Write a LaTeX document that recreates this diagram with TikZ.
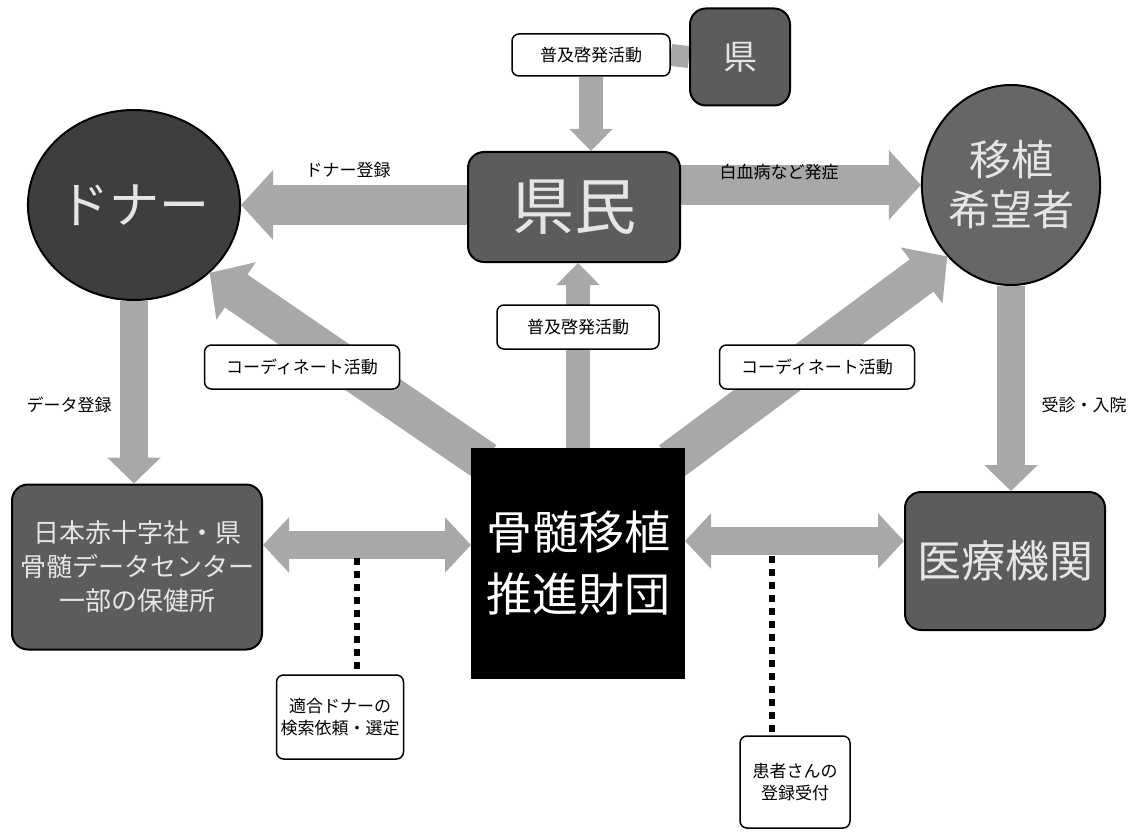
\documentclass[tikz,border=0pt]{standalone}
\usepackage{fontspec}
\setmainfont{Noto Sans CJK JP}
\usetikzlibrary{shapes.geometric,arrows.meta}
\pgfdeclarelayer{bg}
\pgfsetlayers{bg,main}
\definecolor{agray}{HTML}{A8A8A8}
\definecolor{dgray}{HTML}{5C5C5C}
\definecolor{egray}{HTML}{3E3E3E}
\definecolor{kgray}{HTML}{666666}
\begin{document}
\begin{tikzpicture}[x=1pt,y=-1pt,
  lbl/.style={draw=black,line width=1.5pt,fill=white,rounded corners=7pt,font=\fontsize{17}{22}\selectfont,inner sep=4pt,align=center},
  plain/.style={font=\fontsize{17}{20}\selectfont,inner sep=1pt},
  darkbox/.style={draw=black,line width=2pt,fill=dgray,rounded corners=16pt,text=white!90!black,align=center,inner sep=2pt},
  darkell/.style={ellipse,draw=black,line width=2pt,text=white!90!black,align=center,inner sep=0pt},
  bigarrow/.style={draw=agray,line width=40pt,-{Triangle[width=68pt,length=32pt]}},
  midarrow/.style={draw=agray,line width=28pt,-{Triangle[width=52pt,length=26pt]}},
  smallarrow/.style={draw=agray,line width=24pt,-{Triangle[width=42pt,length=22pt]}},
  dblarrow/.style={draw=agray,line width=28pt,{Triangle[width=54pt,length=26pt]}-{Triangle[width=54pt,length=26pt]}},
  dotline/.style={draw=black,line width=6pt,dash pattern=on 7pt off 6pt}
]
\useasboundingbox (0,0) rectangle (1132,837);

% main nodes
\node[darkbox,minimum width=100,minimum height=97,font=\fontsize{34}{36}\selectfont] (ken) at (740,57) {県};
\node[lbl,minimum width=158,minimum height=42] (fukyu1) at (591,55) {普及啓発活動};
\node[darkbox,minimum width=212,minimum height=110,font=\fontsize{62}{64}\selectfont] (kenmin) at (574,207) {県民};
\node[darkell,fill=egray,minimum width=150,minimum height=190,font=\fontsize{50}{52}\selectfont] (donor) at (134,205) {ドナー};
\node[darkell,fill=kgray,minimum width=152,minimum height=200,font=\fontsize{42}{50}\selectfont] (kibo) at (1011,185) {移植\\希望者};
\node[darkbox,minimum width=250,minimum height=165,font=\fontsize{26}{34}\selectfont] (center) at (137,567) {日本赤十字社・県\\骨髄データセンター\\一部の保健所};
\node[darkbox,minimum width=200,minimum height=138,font=\fontsize{44}{46}\selectfont] (iryo) at (1005,561) {医療機関};
\node[draw=black,line width=1pt,fill=black,minimum width=213,minimum height=230,text=white,align=center,font=\fontsize{46}{62}\selectfont] (zaidan) at (578,563) {骨髄移植\\推進財団};

% connectors (behind nodes)
\begin{pgfonlayer}{bg}
\draw[draw=agray,line width=22pt] (fukyu1.east) -- (ken.west);
\draw[smallarrow] (fukyu1.south) -- (fukyu1.south |- kenmin.north);
\draw[bigarrow] (kenmin.west |- donor.east) -- (donor.east);
\draw[bigarrow] (kenmin.east |- kibo.west) -- (kibo.west);
\draw[smallarrow] (zaidan.north) -- (zaidan.north |- kenmin.south);
\draw[bigarrow] ([xshift=14pt,yshift=-14pt]zaidan.north west) -- (donor.south east);
\draw[bigarrow] ([xshift=-14pt,yshift=-14pt]zaidan.north east) -- (kibo.south west);
\draw[midarrow] (donor.south) -- (donor.south |- center.north);
\draw[midarrow] (kibo.south) -- (kibo.south |- iryo.north);
\draw[dblarrow] ([yshift=22pt]center.east) -- ([yshift=22pt]center.east -| zaidan.west);
\draw[dblarrow] ([yshift=22pt]zaidan.east) -- ([yshift=22pt]zaidan.east -| iryo.west);
\end{pgfonlayer}

% labels
\node[lbl,minimum width=162,minimum height=44] (fukyu2) at (578,327) {普及啓発活動};
\node[lbl,minimum width=195,minimum height=44] (coordL) at (302,367) {コーディネート活動};
\node[lbl,minimum width=195,minimum height=44] (coordR) at (817,367) {コーディネート活動};
\node[plain] (tDonor) at (348,170) {ドナー登録};
\node[plain] (tHakketsu) at (779,172) {白血病など発症};
\node[plain] (tData) at (69,405) {データ登録};
\node[plain] (tJushin) at (1084,405) {受診・入院};
\node[lbl,minimum width=122,minimum height=84] (tekigo) at (340,717) {適合ドナーの\\検索依頼・選定};
\node[lbl,minimum width=110,minimum height=92] (kanja) at (795,782) {患者さんの\\登録受付};

\coordinate (d1) at (357,558);
\coordinate (d2) at (772,556);
\draw[dotline] (d1) -- (d1 |- tekigo.north);
\draw[dotline] (d2) -- (d2 |- kanja.north);
\end{tikzpicture}
\end{document}
